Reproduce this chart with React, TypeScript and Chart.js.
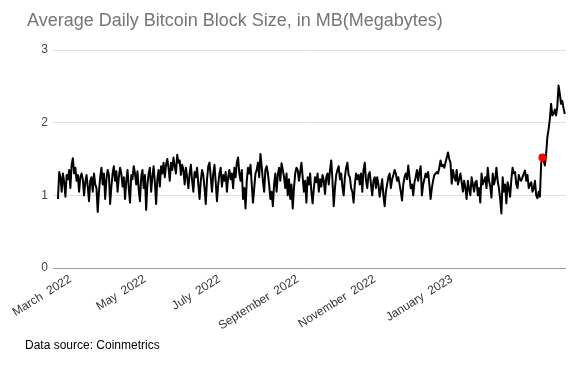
import { useEffect, useRef } from "react";
import { Chart, registerables } from "chart.js";

Chart.register(...registerables);

const chartTitle = "Average Daily Bitcoin Block Size, in MB(Megabytes)";
const sourceNote = "Data source: Coinmetrics";

// x tick positions (day index) and their labels
const tickIndex = [10, 70, 130, 193, 255, 317];
const tickLabels = ["March  2022", "May  2022", "July  2022", "September  2022", "November  2022", "January  2023"];

// daily average block size (MB), in order
const blockSizeA = [0.95, 1.32, 1.25, 1.05, 1.30, 1.18, 0.98, 1.28, 1.22, 1.35, 1.10, 1.42, 1.51, 1.30, 1.38, 1.20, 1.28, 1.05, 1.25, 1.30, 1.22, 1.00, 1.18, 1.28, 1.12, 0.92, 1.20, 1.25, 1.05, 1.30, 1.15];
const blockSizeB = [1.10, 0.77, 1.05, 1.25, 1.38, 1.15, 1.30, 0.95, 1.22, 1.35, 1.28, 0.88, 1.12, 1.30, 1.40, 1.20, 1.33, 1.05, 1.25, 1.38, 1.30, 1.12, 1.25, 0.95, 1.20, 1.35, 1.10, 0.90, 1.28, 1.22, 1.40, 1.30, 1.15, 1.33, 1.08, 0.92, 1.25];
const blockSizeC = [1.35, 1.10, 1.28, 0.80, 1.15, 1.30, 1.38, 1.05, 1.25, 1.40, 1.18, 0.88, 1.22, 1.35, 1.12, 1.40, 1.30, 1.45, 1.25, 1.42, 1.50, 1.38, 1.20, 1.45, 1.35, 1.52, 1.40, 1.30, 1.56, 1.45, 1.48, 1.28, 1.42, 1.35, 1.15, 1.38, 1.25, 1.10, 1.30, 1.42, 1.20, 1.05, 1.32];
const blockSizeD = [1.25, 1.38, 1.15, 0.95, 1.20, 1.35, 1.28, 1.10, 0.88, 1.22, 1.40, 1.45, 1.25, 1.05, 1.30, 1.42, 1.18, 0.92, 1.15, 1.30, 1.38];
const blockSizeE = [1.12, 1.28, 1.20, 1.32, 1.05, 1.25, 1.35, 1.22, 1.30, 1.10, 1.38, 1.25, 1.45, 1.52, 1.30, 1.20, 1.35, 0.95, 1.10, 0.82];
const blockSizeF = [1.20, 1.38, 1.30, 1.42, 1.15, 0.90, 1.10, 1.30, 1.35, 1.45, 1.25, 1.57, 1.40, 1.20, 1.05, 1.35, 1.40, 1.30, 1.15, 0.95, 1.05, 0.85];
const blockSizeG = [1.15, 1.30, 1.05, 1.28, 1.38, 1.20, 1.44, 1.35, 1.25, 1.10, 1.30, 1.00, 1.22, 0.95, 1.15, 0.82];
const blockSizeH = [1.10, 1.30, 1.38, 1.35, 1.20, 1.32, 1.45, 1.25, 1.05, 1.20, 0.90];
const blockSizeI = [1.25, 1.15, 1.30, 1.05, 0.89, 1.10, 1.25, 1.18, 1.30, 1.05, 1.22, 1.12, 1.28, 1.20, 1.02, 1.25, 1.30, 1.15, 1.35, 1.48, 1.20, 0.85, 1.10, 1.28, 1.35, 1.40, 1.22, 1.30, 1.12, 1.00, 1.25, 1.38, 1.45, 1.28, 1.25, 1.10, 1.05, 0.90, 1.15, 1.30, 1.22, 1.28, 1.15, 1.30, 1.05, 1.35, 1.45, 1.20, 1.10, 1.28, 1.32, 1.15, 1.00, 1.20, 1.25, 1.10, 1.25, 1.15, 0.98, 1.10, 1.22, 1.00, 0.85, 1.05, 1.15, 1.25, 1.30, 1.10, 1.22, 1.28, 1.35, 1.30, 1.20];
const blockSizeJ = [1.25, 1.15, 1.05, 0.93, 1.15, 1.25, 1.30, 1.22, 1.41, 1.25, 1.10, 1.15, 1.00, 1.18, 1.25, 1.35, 1.20, 1.32, 1.40, 1.00, 1.15, 1.22, 1.30, 1.25, 1.32, 1.15, 0.95, 1.10, 1.20, 1.28, 1.30, 1.32, 1.30, 1.38, 1.48, 1.40, 1.42, 1.38, 1.45, 1.52, 1.59, 1.50, 1.45, 1.16, 1.35, 1.25, 1.20, 1.35, 1.15, 1.22, 1.30, 1.18, 1.05, 1.20, 1.10, 0.95, 1.20, 1.08, 1.00, 1.25, 1.15, 1.05, 1.18, 1.20, 1.00, 1.10, 0.90, 1.30, 1.15, 1.20, 1.25];
const blockSizeK = [1.10, 1.38, 1.20, 1.12, 0.97, 1.30, 1.15, 1.22, 1.38, 1.20, 1.10, 0.95, 0.75, 1.25, 1.05, 1.15, 0.89, 1.18, 1.10, 0.98, 1.22, 1.38, 1.30, 1.32, 1.15, 1.10, 1.28, 1.22, 1.20, 1.25, 1.30, 1.34, 1.20, 1.28, 1.10, 1.15, 1.18, 1.05, 1.10, 1.20, 1.00, 0.96, 1.05, 0.98, 1.44];
const blockSizeL = [1.52, 1.48, 1.41, 1.57, 1.80, 1.91, 2.05, 2.26, 2.10, 2.12, 2.18, 2.10, 2.22, 2.51, 2.40, 2.26, 2.30, 2.20, 2.12];

const blockSize = [
  ...blockSizeA, ...blockSizeB, ...blockSizeC, ...blockSizeD, ...blockSizeE, ...blockSizeF,
  ...blockSizeG, ...blockSizeH, ...blockSizeI, ...blockSizeJ, ...blockSizeK, ...blockSizeL,
];

// highlighted point (red dot): first value of the last segment
const highlightIndex = blockSize.length - blockSizeL.length;

const yMin = 0;
const yMax = 3;

const FONT = '"Liberation Sans", Arial, sans-serif';

const footerPlugin = {
  id: "footerNote",
  afterDraw(chart: any) {
    const ctx = chart.ctx;
    ctx.save();
    ctx.font = `12px ${FONT}`;
    ctx.fillStyle = "#000000";
    ctx.textBaseline = "middle";
    ctx.textAlign = "left";
    ctx.fillText(sourceNote, 25, 346);
    ctx.restore();
  },
};

export default function App() {
  const canvasRef = useRef<HTMLCanvasElement | null>(null);

  useEffect(() => {
    if (!canvasRef.current) return;
    const lineData = blockSize.map((v, i) => ({ x: i, y: v }));
    const chart = new Chart(canvasRef.current, {
      type: "line",
      data: {
        datasets: [
          {
            label: "Highlight",
            data: [{ x: highlightIndex, y: blockSize[highlightIndex] }],
            showLine: false,
            pointRadius: 4,
            pointBackgroundColor: "#ff0000",
            pointBorderWidth: 0,
            borderColor: "#ff0000",
          },
          {
            label: "Block size",
            data: lineData,
            borderColor: "#000000",
            borderWidth: 2,
            pointRadius: 0,
            tension: 0,
            borderJoinStyle: "round",
            fill: false,
          },
        ],
      },
      options: {
        responsive: false,
        animation: false,
        layout: { padding: { left: 27, right: 22, top: 0, bottom: 29 } },
        plugins: {
          legend: { display: false },
          tooltip: { enabled: false },
          title: {
            display: true,
            text: chartTitle,
            align: "start",
            color: "#757575",
            font: { family: FONT, size: 18, weight: "normal" },
            padding: { top: 10, bottom: 18.4 },
          },
        },
        scales: {
          x: {
            type: "linear",
            min: -4,
            max: 409,
            afterBuildTicks: (scale: any) => {
              scale.ticks = tickIndex.map((v) => ({ value: v }));
            },
            afterFit: (scale: any) => {
              scale.height = 70;
            },
            ticks: {
              autoSkip: false,
              minRotation: 32,
              maxRotation: 32,
              padding: 4,
              color: "#333333",
              font: { family: FONT, size: 12 },
              callback: (value: any) => {
                const k = tickIndex.indexOf(Number(value));
                return k >= 0 ? tickLabels[k] : "";
              },
            },
            grid: { display: false, drawTicks: false },
            border: { display: false },
          },
          y: {
            min: yMin,
            max: yMax,
            afterFit: (scale: any) => {
              scale.width = 26;
            },
            ticks: {
              stepSize: 1,
              padding: 5,
              color: "#444444",
              font: { family: FONT, size: 12 },
            },
            grid: {
              drawTicks: false,
              color: (ctx: any) => (ctx.tick && ctx.tick.value === 0 ? "#9e9e9e" : "#e0e0e0"),
              lineWidth: 1,
            },
            border: { display: false },
          },
        },
      },
      plugins: [footerPlugin],
    });
    return () => chart.destroy();
  }, []);

  return (
    <div style={{ position: "fixed", left: 0, top: 0, width: 588, height: 367, background: "#ffffff" }}>
      <canvas ref={canvasRef} width={588} height={367} />
    </div>
  );
}
